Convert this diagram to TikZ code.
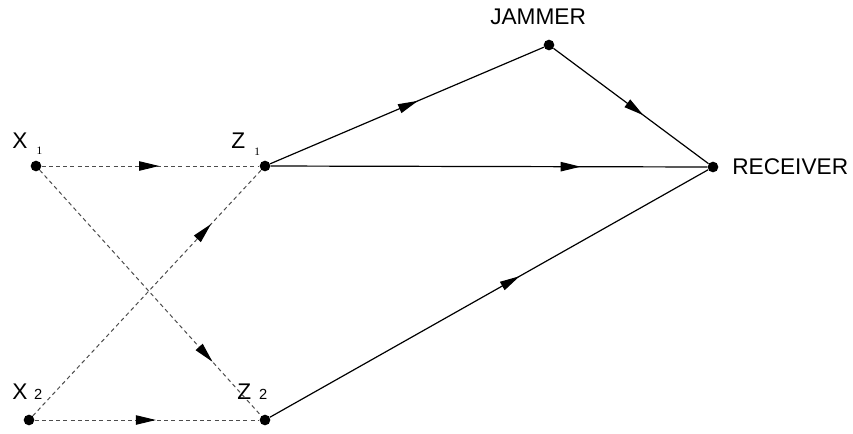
\documentclass[tikz,border=0pt]{standalone}
\usepackage{fontspec}
\setmainfont{Liberation Sans}
\newfontfamily\subserif{Liberation Serif}
\usepackage{tikz}
\usetikzlibrary{arrows.meta,decorations.markings}

\tikzset{
  dot/.style={circle, fill=black, inner sep=0pt, minimum size=8pt},
  lbl/.style={anchor=base west, inner sep=0pt, font=\fontsize{17}{20}\selectfont},
  midarrow/.style={postaction={decorate, decoration={markings,
      mark=at position #1 with {\arrow{Triangle[length=15pt,width=7pt,color=black]}}}}},
  flow/.style={draw=black, line width=0.9pt},
  link/.style={draw=black!70, line width=0.75pt, dash pattern=on 3pt off 2.4pt}
}

\begin{document}
\begin{tikzpicture}[x=0.75pt, y=-0.75pt]
    \useasboundingbox (0,0) rectangle (853,433);

    % nodes
    \node[dot] (x1) at (36,166) {};
    \node[dot] (z1) at (265,166) {};
    \node[dot] (x2) at (29,420) {};
    \node[dot] (z2) at (265,420) {};
    \node[dot] (jam) at (549,45) {};
    \node[dot] (rec) at (713,167) {};

    % labels
    \node[lbl] (x1lbl) at (12,148) {X\hspace{7pt}\raisebox{-5pt}{\subserif\fontsize{8.5}{9}\selectfont 1}};
    \node[lbl] (z1lbl) at (231,148) {Z\hspace{7pt}\raisebox{-5.5pt}{\subserif\fontsize{8.5}{9}\selectfont 1}};
    \node[lbl] (x2lbl) at (12,399) {X\hspace{5pt}{\fontsize{11}{12}\selectfont 2}};
    \node[lbl] (z2lbl) at (237,399) {Z\hspace{6pt}{\fontsize{11}{12}\selectfont 2}};
    \node[lbl] (jamlbl) at (490,24) {JAMMER};
    \node[lbl] (reclbl) at (732,174) {RECEIVER};

    % dashed links
    \draw[link, midarrow=0.54] (x1) -- (z1);
    \draw[link, midarrow=0.54] (x2) -- (z2);
    \draw[link, midarrow=0.78] (x1) -- (z2);
    \draw[link, midarrow=0.78] (x2) -- (z1);

    % solid links
    \draw[flow, midarrow=0.54] (z1) -- (jam);
    \draw[flow, midarrow=0.58] (jam) -- (rec);
    \draw[flow, midarrow=0.71] (z1) -- (rec);
    \draw[flow, midarrow=0.57] (z2) -- (rec);
\end{tikzpicture}
\end{document}
